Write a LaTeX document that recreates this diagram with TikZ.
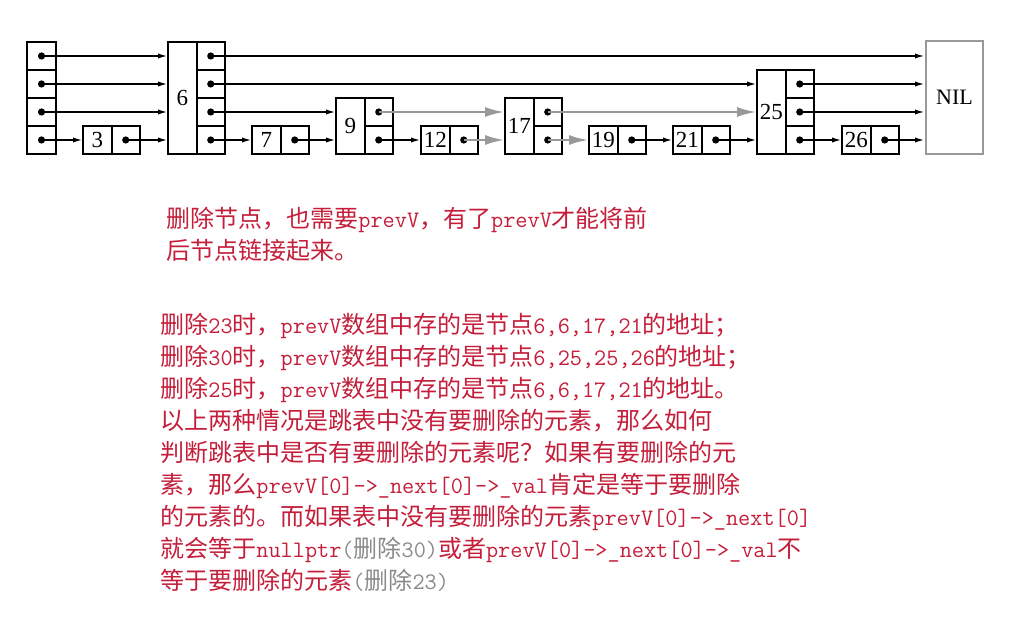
\documentclass[tikz,border=0pt]{standalone}
\usepackage{fontspec}
\setmainfont{Noto Sans CJK SC}
\newfontfamily\numfont{Liberation Serif}
\usetikzlibrary{arrows.meta}
\definecolor{notered}{HTML}{C41E3A}
\definecolor{hotgray}{HTML}{999999}
\definecolor{asidegray}{HTML}{8A8A8A}
\newcommand{\lt}[1]{{\fontsize{11.8}{16}\ttfamily #1}}

\begin{document}
\begin{tikzpicture}[
    x=0.5pt, y=-0.5pt,
    cell/.style={draw, line width=1pt, minimum width=14.25pt, minimum height=14pt, inner sep=0pt, outer sep=0pt},
    keybox/.style={cell, font=\numfont\fontsize{11.5}{12}\selectfont},
    arr/.style={-{Latex[length=5pt, width=2.6pt]}, line width=0.9pt},
    hot/.style={-{Latex[length=10pt, width=5pt]}, line width=1.4pt, color=hotgray},
    note/.style={anchor=north west, align=left, inner sep=0pt, text=notered, font=\fontsize{12}{16}\selectfont}
]
    \useasboundingbox (0,0) rectangle (1013,619);

    % head pointers
    \foreach \i in {1,...,4} {
        \node[cell] (h\i) at (41.5, 168-28*\i) {};
        \fill (h\i.center) circle[radius=1.8pt];
    }

    % skip list nodes: key / left edge / levels
    \foreach \n/\l/\h in {3/83/1, 6/168/4, 7/252/1, 9/336/2, 12/421/1, 17/505/2, 19/589/1, 21/673/1, 25/757/3, 26/842/1} {
        \node[keybox, minimum height={14pt*\h}] (k\n) at (\l+14.25, 154-14*\h) {\n};
        \foreach \i in {1,...,\h} {
            \node[cell] (c\n-\i) at (\l+42.75, 168-28*\i) {};
            \fill (c\n-\i.center) circle[radius=1.8pt];
        }
    }
    \node[draw=hotgray, line width=1pt, minimum width=28.5pt, minimum height=56.5pt, inner sep=0pt,
          font=\numfont\fontsize{11}{12}\selectfont] (nil) at (954.5, 97.5) {NIL};

    % links
    \foreach \s/\t in {h4/k6, h3/k6, h2/k6, h1/k3, c3-1/k6, c6-4/nil, c6-3/k25, c6-2/k9, c6-1/k7,
                       c7-1/k9, c9-1/k12, c19-1/k21, c21-1/k25, c25-3/nil, c25-2/nil, c25-1/k26, c26-1/nil}
        \draw[arr] (\s.center) -- (\s -| \t.west);
    \foreach \s/\t in {c9-2/k17, c12-1/k17, c17-2/k25, c17-1/k19}
        \draw[hot] (\s.center) -- (\s -| \t.west);

    % notes
    \node[note] (note1) at (166, 207) {删除节点，也需要\lt{prevV}，有了\lt{prevV}才能将前\\
        后节点链接起来。};
    \node[note] (note2) at (160, 313) {删除\lt{23}时，\lt{prevV}数组中存的是节点\lt{6,6,17,21}的地址；\\
        删除\lt{30}时，\lt{prevV}数组中存的是节点\lt{6,25,25,26}的地址；\\
        删除\lt{25}时，\lt{prevV}数组中存的是节点\lt{6,6,17,21}的地址。\\
        以上两种情况是跳表中没有要删除的元素，那么如何\\
        判断跳表中是否有要删除的元素呢？如果有要删除的元\\
        素，那么\lt{prevV[0]->\_next[0]->\_val}肯定是等于要删除\\
        的元素的。而如果表中没有要删除的元素\lt{prevV[0]->\_next[0]}\\
        就会等于\lt{nullptr}{\color{asidegray}\lt{(}删除\lt{30)}}或者\lt{prevV[0]->\_next[0]->\_val}不\\
        等于要删除的元素{\color{asidegray}\lt{(}删除\lt{23)}}};
\end{tikzpicture}
\end{document}
